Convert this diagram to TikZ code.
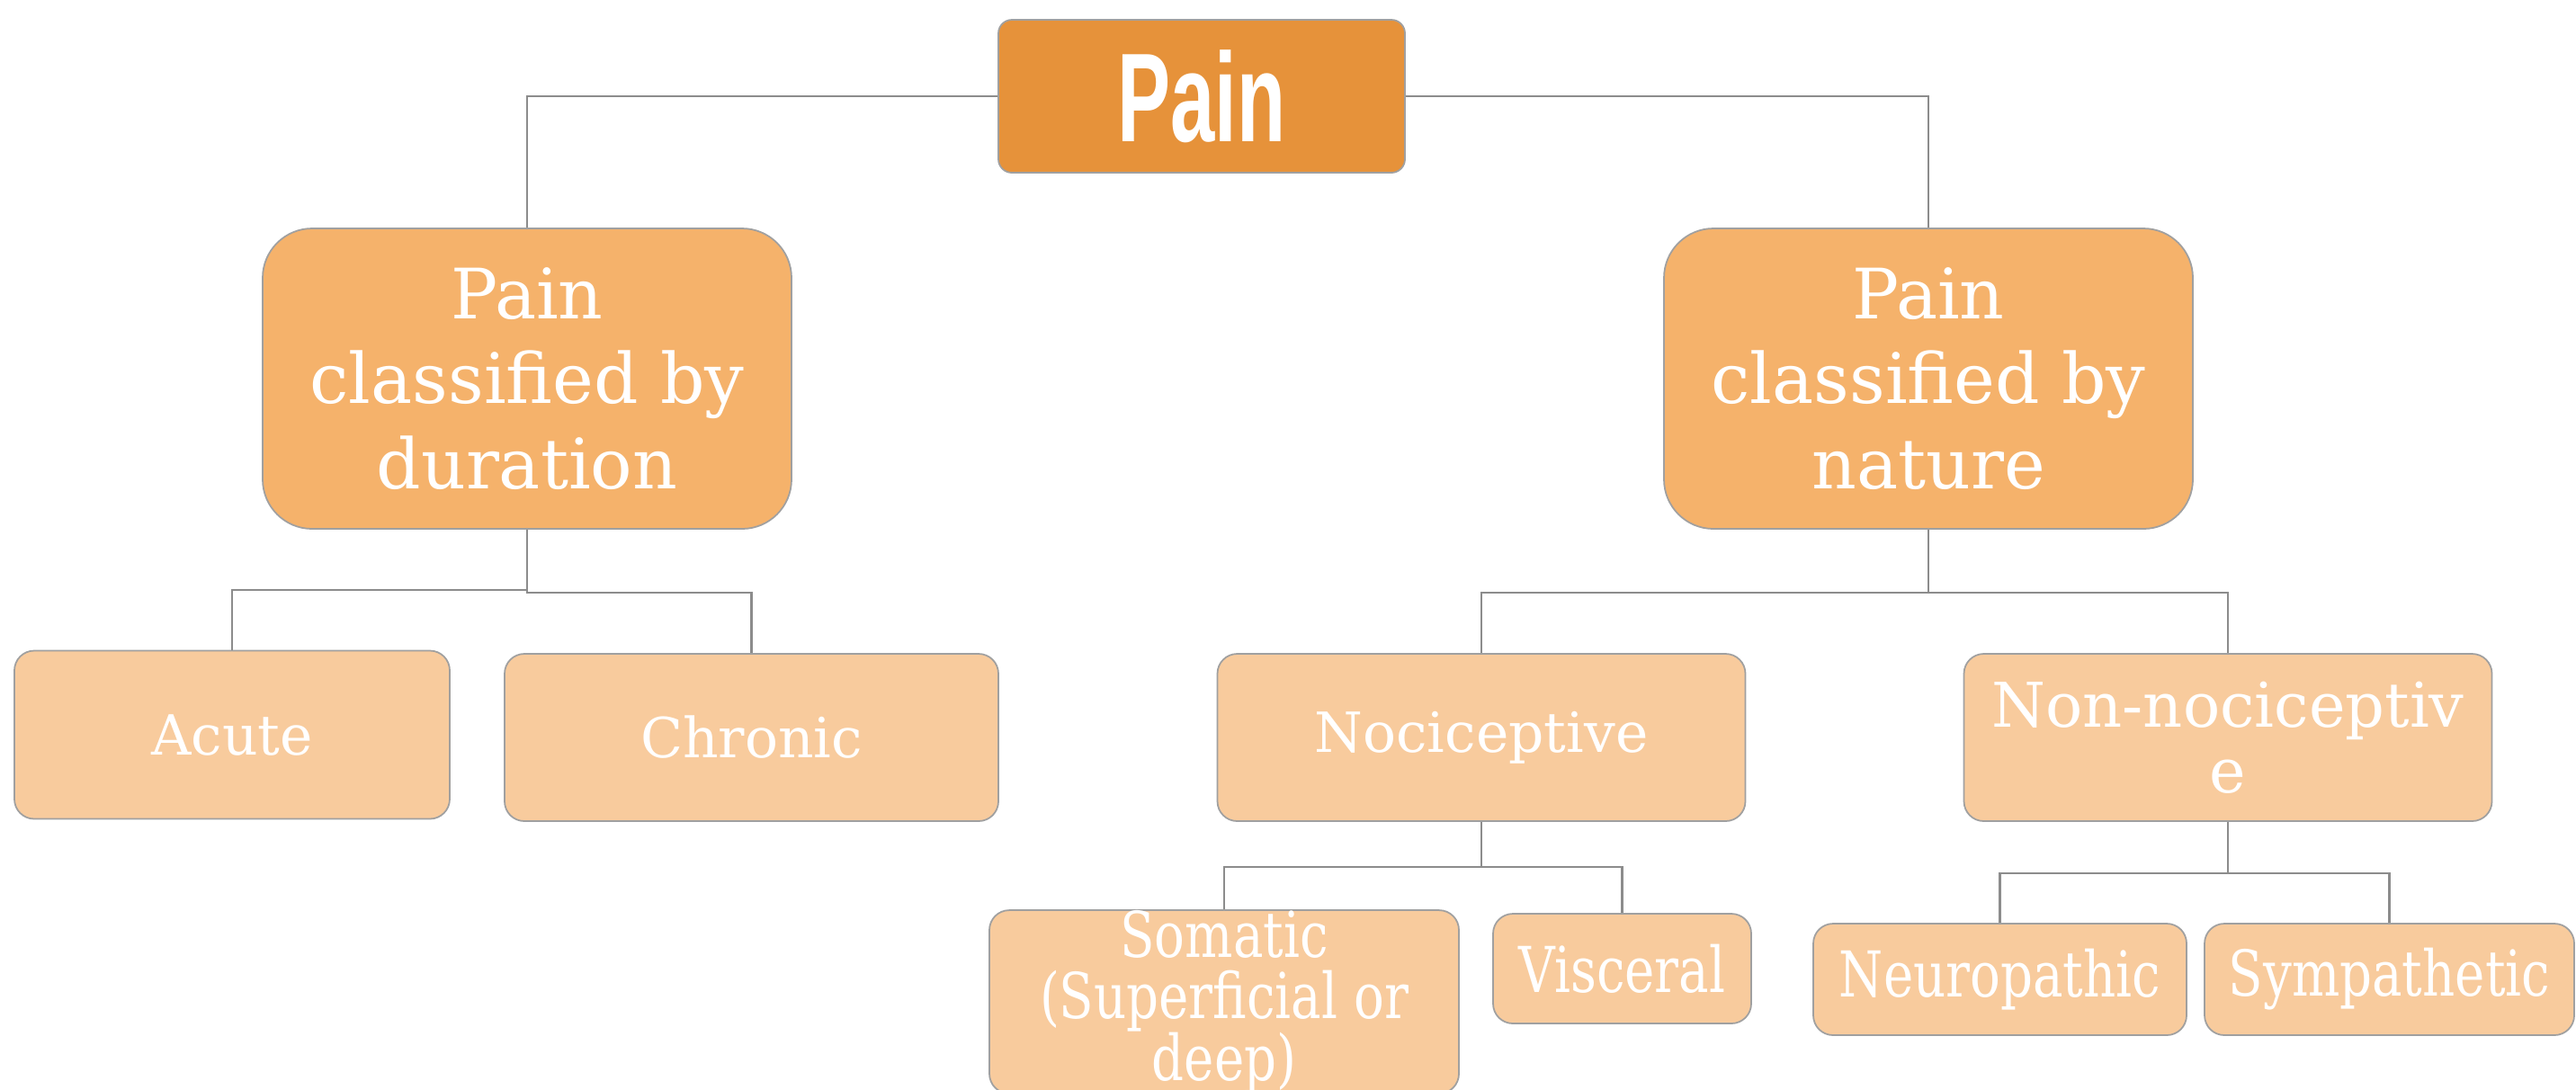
\documentclass[tikz,border=0pt]{standalone}
\usepackage{fontspec}
\setmainfont{DejaVu Serif}
\newfontfamily\titlefont[FakeStretch=0.63]{Liberation Sans}
\newfontfamily\narrowfont[FakeStretch=0.8]{DejaVu Serif}

\definecolor{rootfill}{RGB}{230,146,58}
\definecolor{midfill}{RGB}{245,178,107}
\definecolor{leaffill}{RGB}{248,203,157}
\definecolor{boxline}{RGB}{160,160,160}
\definecolor{connline}{RGB}{140,140,140}

\begin{document}
\begin{tikzpicture}[%
      rootbox/.style={draw=boxline, line width=0.5pt, fill=rootfill, rounded corners=0.15cm,
        minimum width=4.52cm, minimum height=1.70cm, text=white,
        font=\titlefont\bfseries\fontsize{40}{40}\selectfont},
      midbox/.style={draw=boxline, line width=0.5pt, fill=midfill, rounded corners=0.55cm,
        minimum width=5.88cm, minimum height=3.34cm, text=white, align=center,
        font=\fontsize{22}{27}\selectfont},
      leafbox/.style={draw=boxline, line width=0.5pt, fill=leaffill, rounded corners=0.22cm,
        text=white, align=center, inner sep=0pt,
        font=\fontsize{17.5}{21}\selectfont},
      narrowleaf/.style={leafbox, font=\narrowfont\fontsize{20}{19.5}\selectfont},
      conn/.style={draw=connline, line width=0.6pt},
      ]
      \useasboundingbox (0,0) rectangle (28.64,-12.11);

      \node (pain) at (13.36,-1.07) [rootbox] {Pain};

      \node (dur) at (5.86,-4.21) [midbox] {Pain\\classified by\\duration};
      \node (nat) at (21.44,-4.21) [midbox] {Pain\\classified by\\nature};

      \node (acute) at (2.58,-8.17) [leafbox, minimum width=4.84cm, minimum height=1.87cm] {Acute};
      \node (chronic) at (8.355,-8.20) [leafbox, minimum width=5.49cm, minimum height=1.86cm] {Chronic};
      \node (noci) at (16.47,-8.20) [leafbox, minimum width=5.87cm, minimum height=1.86cm] {Nociceptive};
      \node (nonnoci) at (24.77,-8.20) [narrowleaf, minimum width=5.87cm, minimum height=1.86cm,
        font=\fontsize{19.5}{20.8}\selectfont] {Non-nociceptiv\\e};

      \node (somatic) at (13.61,-11.14) [narrowleaf, minimum width=5.22cm, minimum height=1.96cm]
        {Somatic\\(Superficial or\\deep)};
      \node (visceral) at (18.035,-10.77) [narrowleaf, minimum width=2.87cm, minimum height=1.22cm] {Visceral};
      \node (neuro) at (22.235,-10.89) [narrowleaf, minimum width=4.15cm, minimum height=1.24cm] {Neuropathic};
      \node (symp) at (26.565,-10.89) [narrowleaf, minimum width=4.11cm, minimum height=1.24cm] {Sympathetic};

      \draw [conn] (pain.west) -| (dur.north);
      \draw [conn] (pain.east) -| (nat.north);

      \draw [conn] (dur.south) -- ++(0,-0.67) -| (acute.north);
      \draw [conn] (dur.south) -- ++(0,-0.70) -| (chronic.north);

      \draw [conn] (nat.south) -- ++(0,-0.70) -| (noci.north);
      \draw [conn] (nat.south) -- ++(0,-0.70) -| (nonnoci.north);

      \draw [conn] (noci.south) -- ++(0,-0.50) -| (somatic.north);
      \draw [conn] (noci.south) -- ++(0,-0.50) -| (visceral.north);

      \draw [conn] (nonnoci.south) -- ++(0,-0.57) -| (neuro.north);
      \draw [conn] (nonnoci.south) -- ++(0,-0.57) -| (symp.north);
      \end{tikzpicture}
\end{document}
